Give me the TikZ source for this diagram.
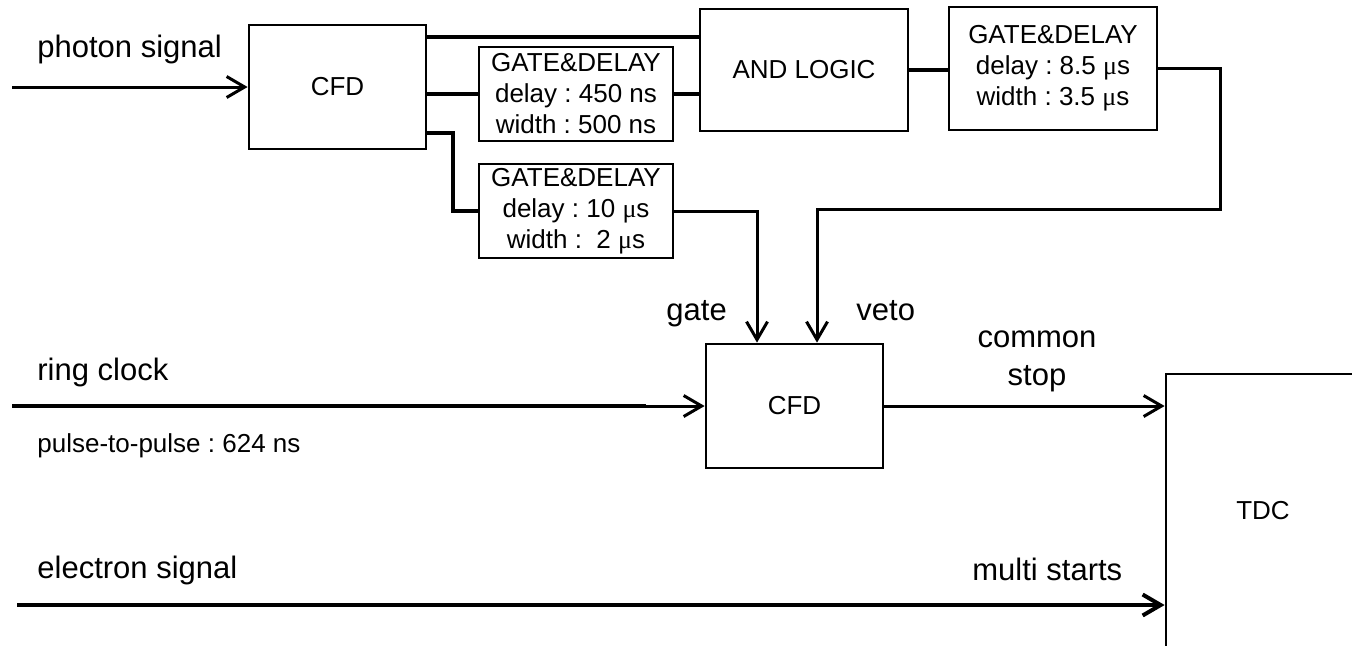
\documentclass[tikz,border=0pt]{standalone}
\usepackage{fontspec}
\setmainfont{Liberation Sans}
\newfontfamily\greekmu{Liberation Serif}
\newcommand{\micro}{{\greekmu μ}}
\usetikzlibrary{arrows.meta}
\frenchspacing
\begin{document}
\begin{tikzpicture}[x=0.5pt,y=-0.5pt,
  module/.style={draw,line width=1.4pt,inner sep=0pt,minimum width=88.5pt,minimum height=62pt,align=center,font=\fontsize{13pt}{15.5pt}\selectfont},
  gatebox/.style={module,minimum width=97pt,minimum height=47pt},
  tag/.style={inner sep=0pt,font=\fontsize{15.5pt}{19pt}\selectfont},
  wire/.style={line width=2pt},
  sig/.style={line width=1.5pt,-{Straight Barb[length=9pt,width=10.5pt]}}]
  \useasboundingbox (0,0) rectangle (1352,645);
  \clip (0,0) rectangle (1352,645);
  \node (cfdA) [module] at (337.5,87) {CFD};
  \node (gdA) [gatebox] at (576,94) {GATE\&DELAY\\delay : 450 ns\\width : 500 ns};
  \node (gdB) [gatebox] at (576,211) {GATE\&DELAY\\delay : 10 \micro s\\width : \ 2 \micro s};
  \node (andl) [module,minimum width=104pt,minimum height=61pt] at (804,70) {AND LOGIC};
  \node (gdC) [module,minimum width=104pt,minimum height=61.5pt] at (1053,68.5) {GATE\&DELAY\\delay : 8.5 \micro s\\width : 3.5 \micro s};
  \node (cfdB) [module] at (794.5,406) {CFD};
  \node (tdc) [module,minimum width=97pt,minimum height=137pt] at (1263,511) {TDC};
  \node (phl) [tag,anchor=base west] at (37,57) {photon signal};
  \node (rcl) [tag,anchor=base west] at (37,380) {ring clock};
  \node (ppl) [anchor=base west,inner sep=0pt,font=\fontsize{13pt}{15.5pt}\selectfont] at (37,452) {pulse-to-pulse : 624 ns};
  \node (ell) [tag,anchor=base west] at (37,578) {electron signal};
  \node (gtl) [tag,anchor=base west] at (666,320) {gate};
  \node (vtl) [tag,anchor=base west] at (856,320) {veto};
  \node (csl) [tag,align=center] at (1037,361) {common\\stop};
  \node (msl) [tag,anchor=base west] at (972,580) {multi starts};
  \coordinate (ph) at (12,87);
  \coordinate (rc) at (12,406);
  \coordinate (rcb) at (646,406);
  \coordinate (el) at (17,605);
  \draw[sig] (ph) -- (cfdA.west);
  \draw[wire] (cfdA.east |- 0,37) -- (andl.west |- 0,37);
  \draw[wire] (cfdA.east |- gdA) -- (gdA.west);
  \draw[wire] (gdA.east) -- (andl.west |- gdA.east);
  \draw[wire] (cfdA.east |- 0,133) -- (453,133) |- (gdB.west);
  \draw[wire] (andl.east) -- (gdC.west |- andl.east);
  \draw[sig] (gdB.east) -| (cfdB.north -| 757,0);
  \draw[sig] (gdC.east) -| (1220,209) -| (cfdB.north -| 817,0);
  \draw[wire] (rc) -- (rcb);
  \draw[sig] (rcb) -- (cfdB.west);
  \draw[sig] (cfdB.east) -- (tdc.west |- cfdB.east);
  \draw[sig,line width=2pt] (el) -- (tdc.west |- el);
\end{tikzpicture}
\end{document}
